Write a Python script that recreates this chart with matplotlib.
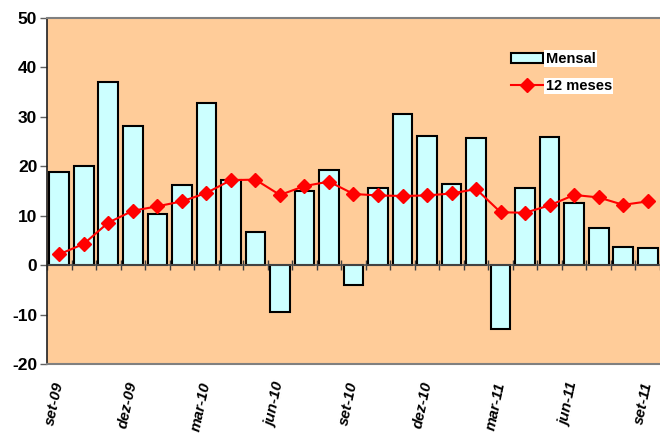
import matplotlib
matplotlib.use('Agg')
import matplotlib.pyplot as plt
import numpy as np

# meses de set-09 a set-11
meses = ['set-09', 'out-09', 'nov-09', 'dez-09', 'jan-10', 'fev-10', 'mar-10',
         'abr-10', 'mai-10', 'jun-10', 'jul-10', 'ago-10', 'set-10', 'out-10',
         'nov-10', 'dez-10', 'jan-11', 'fev-11', 'mar-11', 'abr-11', 'mai-11',
         'jun-11', 'jul-11', 'ago-11', 'set-11']
mensal = [18.8, 20.0, 37.0, 28.1, 10.3, 16.2, 32.8, 17.2, 6.7, -9.5, 15.0, 19.2,
          -4.0, 15.6, 30.5, 26.1, 16.4, 25.7, -13.0, 15.6, 26.0, 12.6, 7.5, 3.7, 3.5]
doze_meses = [2.2, 4.3, 8.6, 11.0, 11.9, 12.9, 14.6, 17.2, 17.3, 14.2, 16.0, 16.9,
              14.4, 14.1, 14.0, 14.1, 14.5, 15.4, 10.7, 10.6, 12.1, 14.2, 13.7, 12.2, 12.9]
y_ticks = [-20, -10, 0, 10, 20, 30, 40, 50]

plt.rcParams['font.family'] = ['Liberation Sans', 'DejaVu Sans']

x = np.arange(len(meses))
fig = plt.figure(figsize=(6.6, 4.34), dpi=100)
ax = fig.add_axes([0.0712, 0.1613, 0.9288, 0.7972])
ax.set_facecolor('#FFCC99')

barras = ax.bar(x, mensal, 0.8, color='#CCFFFF', edgecolor='black', linewidth=1.5,
                label='Mensal', zorder=2)
linha, = ax.plot(x, doze_meses, color='red', linewidth=1.5, marker='D', markersize=7,
                 label='12 meses', zorder=3)
ax.axhline(0, color='#505050', linewidth=1.2, zorder=2.5)

ax.set_xlim(-0.5, len(meses) - 0.5)
ax.set_ylim(-20, 50)
ax.set_yticks(y_ticks)
ax.set_yticklabels([str(v) for v in y_ticks], fontsize=12.5, fontweight='bold')
ax.tick_params(axis='y', length=5, width=1, color='#606060', pad=2)

# rótulos a cada 3 meses
ax.set_xticks(x[::3])
ax.set_xticklabels(meses[::3], rotation=78, ha='right', va='center',
                   rotation_mode='anchor', fontsize=11, fontweight='bold',
                   fontstyle='italic')
ax.tick_params(axis='x', length=0, pad=13)

# marcas entre as categorias sobre a linha do zero
sec = ax.secondary_xaxis(0, transform=ax.transData)
sec.set_xticks(np.arange(len(meses) + 1) - 0.5)
sec.set_xticklabels([])
sec.tick_params(axis='x', direction='inout', length=7, width=1, color='#404040')
sec.spines['bottom'].set_visible(False)

ax.spines['left'].set_color('#202020')
ax.spines['left'].set_linewidth(1.2)
ax.spines['top'].set_color('#808080')
ax.spines['top'].set_linewidth(1.5)
ax.spines['bottom'].set_color('#808080')
ax.spines['bottom'].set_linewidth(1.5)
ax.spines['right'].set_visible(False)

leg = ax.legend([barras, linha], ['Mensal', '12 meses'], loc='upper left',
                bbox_to_anchor=(0.735, 0.94), frameon=False,
                prop={'weight': 'bold', 'size': 10.5}, handlelength=2.2,
                handletextpad=0.2, labelspacing=0.9)
for t in leg.get_texts():
    t.set_bbox(dict(facecolor='white', edgecolor='none', pad=1))

plt.savefig('out.png', dpi=100)
